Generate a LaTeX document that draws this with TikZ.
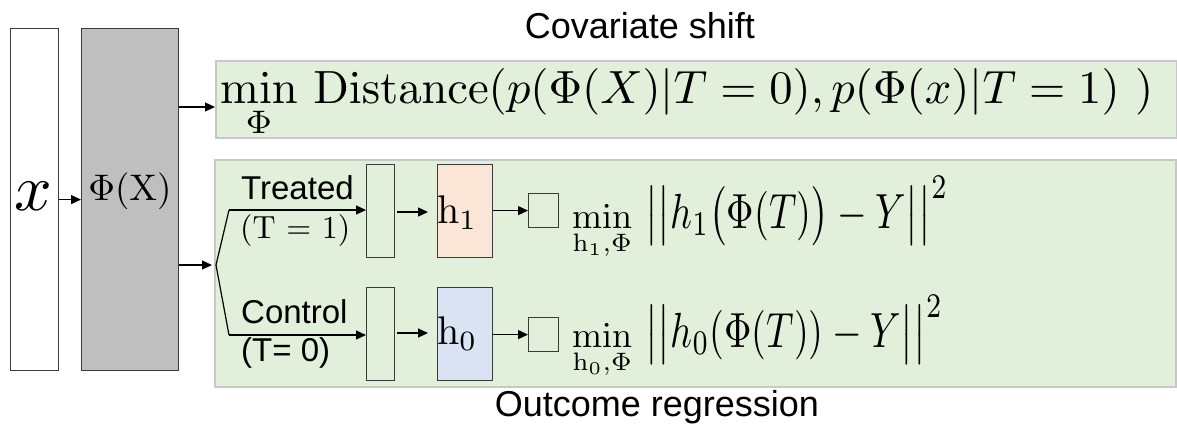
\documentclass[tikz,border=0pt]{standalone}
\usepackage[no-math]{fontspec}
\usepackage{amsmath}
\usepackage{graphicx}
\newfontfamily\arial{Liberation Sans}
\usetikzlibrary{arrows.meta}
\definecolor{bggreen}{HTML}{E2EFDA}
\definecolor{bgborder}{HTML}{C8C8C8}
\definecolor{boxline}{HTML}{3A3A3A}
\definecolor{phigray}{HTML}{BFBFBF}
\definecolor{peach}{HTML}{FBE5D6}
\definecolor{paleblue}{HTML}{DAE3F3}
\tikzset{
  panel/.style={draw=bgborder, line width=1.5pt, fill=bggreen, anchor=north west, inner sep=0pt},
  blk/.style={draw=boxline, line width=1.2pt, anchor=north west, inner sep=0pt},
  arr/.style={-{Triangle[length=10pt,width=9pt]}, line width=1.2pt, draw=black},
  ln/.style={line width=1.2pt, draw=black},
  sanslbl/.style={font=\arial\fontsize{33}{36}\selectfont, inner sep=0pt},
  title/.style={font=\arial\fontsize{36}{40}\selectfont, inner sep=0pt},
  formula/.style={inner sep=0pt, anchor=base west}
}
\begin{document}
\begin{tikzpicture}[x=1pt,y=-1pt]
\useasboundingbox (0,0) rectangle (1177,429);
% panels
\node[panel, minimum width=961pt, minimum height=77pt] (top) at (215,60) {};
\node[panel, minimum width=961pt, minimum height=227pt] (bot) at (214,159) {};
% left blocks
\node[blk, fill=white, minimum width=48pt, minimum height=342pt] (xbox) at (10,28) {};
\node[blk, fill=phigray, minimum width=97pt, minimum height=342pt] (phibox) at (81,28) {};
\node[inner sep=0pt] (xlbl) at (33,196) {\scalebox{6.6}{$x$}};
\node[inner sep=0pt] (philbl) at (130,191) {\scalebox{3.7}{$\Phi(\mathrm{X})$}};
% encoder boxes
\node[blk, fill=bggreen, minimum width=28pt, minimum height=93pt] (enc1) at (366,164) {};
\node[blk, fill=bggreen, minimum width=28pt, minimum height=93pt] (enc0) at (366,287) {};
% heads
\node[blk, fill=peach, minimum width=55pt, minimum height=93pt] (h1) at (437,164) {};
\node[blk, fill=paleblue, minimum width=55pt, minimum height=93pt] (h0) at (437,287) {};
\node[inner sep=0pt, anchor=west] (h1lbl) at (437,213) {\scalebox{4}{$\mathrm{h}_1$}};
\node[inner sep=0pt, anchor=west] (h0lbl) at (437,334) {\scalebox{4}{$\mathrm{h}_0$}};
% small squares
\node[blk, fill=bggreen, minimum width=30pt, minimum height=34pt] (sq1) at (528,193) {};
\node[blk, fill=bggreen, minimum width=30pt, minimum height=34pt] (sq0) at (528,317) {};
% arrows
\draw[arr] (xbox.east) -- (phibox.west);
\draw[arr] (phibox.east |- 0,107) -- (top.west |- 0,107);
\coordinate (split) at (216,265);
\draw[arr] (phibox.east |- split) -- ([xshift=-4pt]split);
\coordinate (bt) at (229,210);
\coordinate (bc) at (229,335);
\draw[ln] (split) -- (bt);
\draw[ln] (split) -- (bc);
\draw[arr] (bt) -- (enc1.west |- bt);
\draw[arr] (bc) -- (enc0.west |- bc);
\draw[arr, shorten <=2pt, shorten >=9pt] (enc1.east |- 0,212) -- (h1.west |- 0,212);
\draw[arr, shorten <=2pt, shorten >=9pt] (enc0.east |- 0,333) -- (h0.west |- 0,333);
\draw[arr] (h1.east |- sq1.west) -- (sq1.west);
\draw[arr] (h0.east |- sq0.west) -- (sq0.west);
% branch labels
\node[sanslbl, anchor=west] (treated) at (241,188) {Treated};
\node[inner sep=0pt, anchor=west] (t1) at (240,230) {\scalebox{3.2}{(T = 1)}};
\node[sanslbl, anchor=west] (control) at (241,312) {Control};
\node[sanslbl, anchor=west] (t0) at (241,353) {(T= 0)};
% formulas
\node[formula] (ftop) at (220,103) {\resizebox{933pt}{!}{$\displaystyle\min_{\Phi}\,\mathrm{Distance}(p(\Phi(X)|T=0),p(\Phi(x)|T=1)\ )$}};
\node[formula] (m1) at (572,228) {\scalebox{3.6}{$\displaystyle\min_{\mathrm{h}_1,\Phi}$}};
\node[formula] (f1) at (645,228) {\resizebox{303pt}{52pt}{$\bigl|\bigl|h_1\bigl(\Phi(T)\bigr)-Y\bigr|\bigr|^2$}};
\node[formula] (m0) at (572,347) {\scalebox{3.6}{$\displaystyle\min_{\mathrm{h}_0,\Phi}$}};
\node[formula] (f0) at (645,347) {\resizebox{298pt}{52pt}{$\bigl|\bigl|h_0(\Phi(T))-Y\bigr|\bigr|^2$}};
% titles
\node[title] (cov) at (640,26) {Covariate shift};
\node[title] (out) at (657,407) {Outcome regression};
\end{tikzpicture}
\end{document}
